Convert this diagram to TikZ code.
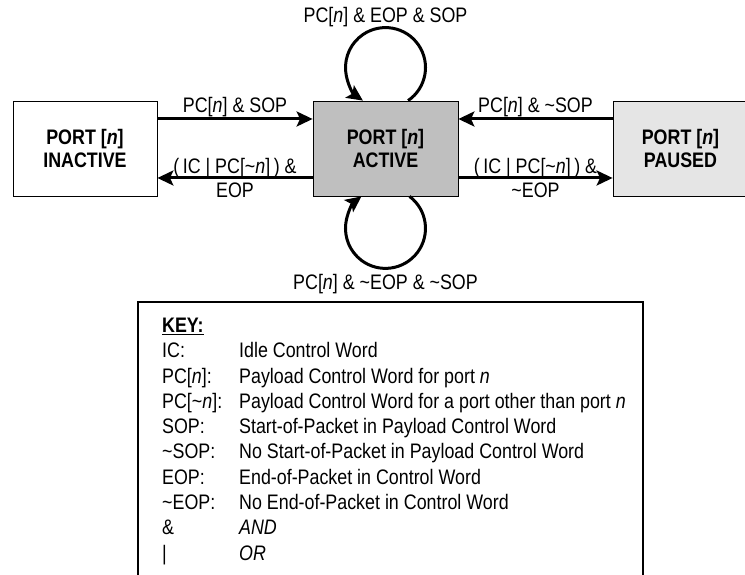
\documentclass[tikz,border=0pt]{standalone}
\usepackage{fontspec}
\setmainfont{Liberation Sans}[FakeStretch=0.85]
\usepackage{xcolor}
\usetikzlibrary{arrows.meta}

\definecolor{activegray}{gray}{0.75}
\definecolor{pausedgray}{gray}{0.9}

\begin{document}
\begin{tikzpicture}[
    x=1pt, y=1pt,
    state/.style={
        rectangle, draw=black, line width=0.8pt,
        minimum height=95pt, align=center,
        font=\fontsize{21}{23}\selectfont\bfseries, inner sep=0pt
    },
    trans/.style={-{Stealth[length=16pt,width=15pt,inset=3.5pt]}, line width=3pt},
    lbl/.style={font=\fontsize{21}{24}\selectfont, align=center, inner sep=1pt},
    keybox/.style={rectangle, draw, line width=1.6pt}
]
\useasboundingbox (0,0) rectangle (745,575);

% States
\node[state, minimum width=144pt] (inact) at (85,426.5) {PORT [\textit{n}]\\INACTIVE};
\node[state, minimum width=145pt, fill=activegray] (act) at (385.5,426.5) {PORT [\textit{n}]\\ACTIVE};
\node[state, minimum width=135pt, fill=pausedgray] (paus) at (680.5,426.5) {PORT [\textit{n}]\\PAUSED};

% Transitions
\draw[trans] ([yshift=29.5pt]inact.east) -- ([yshift=29.5pt]act.west)
    node[lbl, midway, above] {PC[\textit{n}] \& SOP};
\draw[trans] ([yshift=-29.5pt]act.west) -- ([yshift=-29.5pt]inact.east)
    node[lbl, midway] {(\,IC | PC[\textasciitilde\textit{n}]\,) \&\\EOP};
\draw[trans] ([yshift=29.5pt]paus.west) -- ([yshift=29.5pt]act.east)
    node[lbl, midway, above] {PC[\textit{n}] \& \textasciitilde SOP};
\draw[trans] ([yshift=-29.5pt]act.east) -- ([yshift=-29.5pt]paus.west)
    node[lbl, midway] {(\,IC | PC[\textasciitilde\textit{n}]\,) \&\\\textasciitilde EOP};

% Self loops
\draw[trans] ([xshift=22.6pt]act.north) arc[start angle=-55.6, end angle=235.6, radius=40];
\draw[trans] ([xshift=24pt]act.south) arc[start angle=53.1, end angle=-233.1, radius=40];
\node[lbl, anchor=base] (loophi) at (385.5,552.5) {PC[\textit{n}] \& EOP \& SOP};
\node[lbl, anchor=base] (looplo) at (385.5,285.5) {PC[\textit{n}] \& \textasciitilde EOP \& \textasciitilde SOP};

% Key
\node[keybox, minimum width=505pt, minimum height=290pt, anchor=north west] (key) at (137,274) {};
\node[anchor=base west, inner sep=0pt, font=\fontsize{21}{25.3}\selectfont] (legend) at (162,242.5) {%
\begin{tabular}[t]{@{}p{77pt}@{}l@{}}
\underline{\textbf{KEY:}} & \\
IC: & Idle Control Word\\
PC[\textit{n}]: & Payload Control Word for port \textit{n}\\
PC[\textasciitilde\textit{n}]: & Payload Control Word for a port other than port \textit{n}\\
SOP: & Start-of-Packet in Payload Control Word\\
\textasciitilde SOP: & No Start-of-Packet in Payload Control Word\\
EOP: & End-of-Packet in Control Word\\
\textasciitilde EOP: & No End-of-Packet in Control Word\\
\& & \textit{AND}\\
| & \textit{OR}
\end{tabular}};

\end{tikzpicture}
\end{document}
